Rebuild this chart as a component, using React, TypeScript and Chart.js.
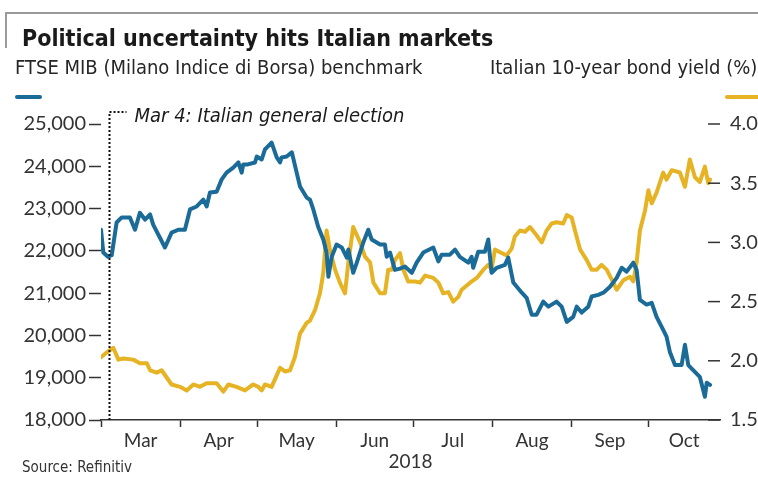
import React, { useEffect, useRef } from 'react';
import { Chart, registerables } from 'chart.js';

Chart.register(...registerables);

// ---- Data (x = days since 1 Mar 2018) ----
const monthNames = ['Mar', 'Apr', 'May', 'Jun', 'Jul', 'Aug', 'Sep', 'Oct'];
const monthStarts = [0, 31, 61, 92, 122, 153, 184, 214];
const axisEndDay = 242;
const electionDay = 3;
const electionLabel = 'Mar 4: Italian general election';
const yearLabel = '2018';

const leftTicks = [18000, 19000, 20000, 21000, 22000, 23000, 24000, 25000];
const rightTicks = [1.5, 2.0, 2.5, 3.0, 3.5, 4.0];

const ftseDays = [
  0, 0.9, 2.7, 4.2, 6.1, 8.1, 11.3, 13.3, 15.2, 17.2, 19.2, 20.4, 25.0, 27.6, 30.2, 32.8,
  34.8, 37.4, 40.0, 41.3, 42.6, 45.2, 47.2, 49.1, 51.7, 53.7, 55.0, 55.6, 57.0, 60.2, 60.9,
  62.8, 64.1, 66.7, 68.7, 70.0, 70.6, 72.6, 74.6, 76.5, 77.8, 80.4, 81.7, 83.0, 84.9, 86.9,
  88.2, 88.9, 90.2, 92.1, 94.1, 96.1, 96.7, 98.6, 100.0, 102.5, 104.5, 105.8, 109.1, 111.0,
  111.7, 113.0, 114.9, 116.9, 118.8, 121.5, 123.4, 126.0, 129.9, 131.9, 133.2, 136.4, 138.4,
  140.3, 143.6, 144.9, 145.5, 147.5, 150.1, 151.4, 152.7, 154.7, 157.9, 159.2, 161.2, 164.5,
  166.4, 168.4, 170.3, 172.9, 174.9, 178.1, 180.1, 182.1, 184.6, 186.0, 187.9, 190.5, 191.8,
  194.4, 196.4, 199.0, 201.6, 203.6, 205.5, 208.1, 209.4, 210.7, 213.3, 215.3, 217.2, 219.8,
  221.1, 222.4, 224.4, 227.0, 228.3, 229.6, 231.5, 234.1, 236.1, 236.8, 238.1,
];
const ftseValues = [
  22500, 21960, 21860, 21900, 22670, 22790, 22790, 22500, 22900, 22740, 22860, 22620, 22080, 22430, 22500, 22500,
  22980, 23050, 23210, 23050, 23380, 23400, 23690, 23850, 23970, 24090, 23850, 24040, 24040, 24090, 24230,
  24160, 24400, 24560, 24210, 24090, 24210, 24230, 24330, 23850, 23520, 23260, 23210, 22980, 22570, 22270,
  21960, 21390, 21860, 22150, 22080, 21840, 22030, 21480, 21720, 22190, 22500, 22270, 22150, 22150,
  21860, 21960, 21550, 21580, 21630, 21480, 21720, 21960, 22080, 21750, 21910, 21910, 22030,
  21860, 21720, 21860, 21600, 21980, 21980, 22270, 21480, 21600, 21670, 21840, 21250, 21010,
  20890, 20490, 20490, 20800, 20680, 20800, 20680, 20320, 20440, 20680, 20540, 20680, 20920,
  20960, 21010, 21150, 21360, 21600, 21510, 21720, 21550, 20840, 20730, 20770, 20440, 20130,
  19970, 19610, 19300, 19300, 19780, 19300, 19180, 19020, 18550, 18880, 18830,
];

const yieldDays = [
  0, 2.2, 4.8, 6.8, 8.7, 12.6, 15.2, 17.9, 19.2, 21.8, 23.7, 27.6, 30.9, 33.5, 36.1, 38.7,
  41.3, 45.2, 47.8, 49.8, 53.0, 56.3, 59.5, 61.5, 62.8, 64.1, 66.7, 70.0, 71.9, 73.9, 75.8,
  77.8, 80.4, 81.7, 83.7, 85.6, 86.9, 88.2, 89.5, 91.5, 93.4, 95.4, 96.7, 98.6, 101.3, 103.2,
  105.2, 106.5, 109.1, 111.0, 112.3, 113.7, 114.9, 116.9, 118.2, 120.1, 122.8, 124.7, 126.7,
  129.9, 131.9, 133.8, 135.8, 137.7, 139.7, 141.0, 144.3, 146.9, 149.5, 151.4, 152.7, 154.0,
  156.6, 158.6, 160.6, 161.8, 163.8, 165.8, 167.7, 170.3, 172.3, 174.2, 176.2, 178.1, 180.7,
  182.1, 184.0, 185.3, 187.3, 189.9, 191.8, 193.8, 195.7, 197.7, 200.3, 201.6, 204.2, 206.8,
  208.1, 209.4, 210.7, 212.7, 214.0, 215.3, 217.2, 219.8, 221.1, 223.1, 226.3, 228.3, 230.2,
  232.2, 234.1, 236.1, 237.4, 238.1,
];
const yieldValues = [
  2.03, 2.07, 2.11, 2.01, 2.02, 2.01, 1.98, 1.98, 1.92, 1.90, 1.92, 1.80, 1.78, 1.75, 1.80, 1.78,
  1.81, 1.81, 1.74, 1.80, 1.78, 1.75, 1.80, 1.78, 1.75, 1.80, 1.78, 1.94, 1.91, 1.92, 2.03,
  2.23, 2.32, 2.34, 2.43, 2.57, 2.74, 3.10, 2.94, 2.77, 2.66, 2.57, 2.83, 3.13, 3.00, 2.88,
  2.83, 2.66, 2.57, 2.57, 2.77, 2.77, 2.85, 2.91, 2.77, 2.67, 2.67, 2.66, 2.72,
  2.70, 2.66, 2.57, 2.58, 2.50, 2.54, 2.60, 2.66, 2.70, 2.77, 2.81, 2.77, 2.94,
  2.91, 2.89, 2.95, 3.05, 3.10, 3.09, 3.13, 3.06, 3.00, 3.10, 3.16, 3.17, 3.16,
  3.23, 3.21, 3.10, 2.94, 2.85, 2.77, 2.77, 2.81, 2.77, 2.66, 2.60, 2.68, 2.71,
  2.67, 2.83, 3.10, 3.27, 3.44, 3.33, 3.42, 3.59, 3.53, 3.61, 3.59, 3.47, 3.70,
  3.55, 3.51, 3.64, 3.50, 3.53,
];

const BLUE = '#1a6b98';
const GOLD = '#e5b323';
const INK = '#333333';
const TICK_FONT = "Lato, 'Open Sans', sans-serif";
const NARROW = "'Liberation Sans Narrow', 'Arial Narrow', 'DejaVu Sans Condensed', sans-serif";

const monthMids = monthStarts.map((s, i) => (s + (i + 1 < monthStarts.length ? monthStarts[i + 1] : axisEndDay)) / 2);

const extrasPlugin = {
  id: 'extras',
  afterDatasetsDraw(chart: any) {
    const { ctx, chartArea, scales } = chart;
    const yR = scales.yR;
    ctx.save();
    // right-axis tick dashes (inside)
    ctx.strokeStyle = INK;
    ctx.lineWidth = 1.5;
    rightTicks.forEach((v) => {
      const y = yR.getPixelForValue(v);
      ctx.beginPath();
      ctx.moveTo(chartArea.right - 12, y);
      ctx.lineTo(chartArea.right, y);
      ctx.stroke();
    });
    // election marker
    const x = Math.round(scales.x.getPixelForValue(electionDay)) + 0.5;
    const topY = chartArea.top - 12;
    ctx.strokeStyle = '#111';
    ctx.lineWidth = 2;
    ctx.setLineDash([2, 2]);
    ctx.beginPath();
    ctx.moveTo(x, chartArea.bottom);
    ctx.lineTo(x, topY);
    ctx.lineTo(x + 17, topY);
    ctx.stroke();
    ctx.setLineDash([]);
    ctx.fillStyle = '#1a1a1a';
    ctx.font = `italic 20px ${NARROW}`;
    ctx.textBaseline = 'alphabetic';
    ctx.textAlign = 'left';
    ctx.fillText(electionLabel, x + 25, topY + 10);
    ctx.restore();
  },
};

export default function App() {
  const canvasRef = useRef<HTMLCanvasElement | null>(null);

  useEffect(() => {
    if (!canvasRef.current) return;
    const chart = new Chart(canvasRef.current, {
      type: 'line',
      data: {
        datasets: [
          {
            label: 'FTSE MIB',
            data: ftseDays.map((d, i) => ({ x: d, y: ftseValues[i] })),
            yAxisID: 'yL',
            borderColor: BLUE,
            borderWidth: 4,
            pointRadius: 0,
            tension: 0,
            borderJoinStyle: 'round',
            borderCapStyle: 'round',
          },
          {
            label: 'Italian 10-year bond yield (%)',
            data: yieldDays.map((d, i) => ({ x: d, y: yieldValues[i] })),
            yAxisID: 'yR',
            borderColor: GOLD,
            borderWidth: 4,
            pointRadius: 0,
            tension: 0,
            borderJoinStyle: 'round',
            borderCapStyle: 'round',
          },
        ],
      },
      options: {
        animation: false,
        responsive: false,
        devicePixelRatio: 1,
        layout: { padding: { top: 124, left: 0, right: 0, bottom: 0 } },
        plugins: { legend: { display: false }, tooltip: { enabled: false } },
        scales: {
          x: {
            type: 'linear',
            min: 0,
            max: axisEndDay,
            position: 'bottom',
            afterBuildTicks: (scale: any) => {
              scale.ticks = [...monthStarts, ...monthMids].sort((a, b) => a - b).map((v) => ({ value: v }));
            },
            afterFit: (scale: any) => {
              scale.height = 59;
            },
            ticks: {
              autoSkip: false,
              maxRotation: 0,
              padding: 2,
              color: INK,
              font: { family: TICK_FONT, size: 19 },
              callback: (v: any) => {
                const i = monthMids.indexOf(Number(v));
                return i >= 0 ? monthNames[i] : '';
              },
            },
            grid: {
              drawOnChartArea: false,
              drawTicks: true,
              tickLength: 7,
              tickWidth: 1.5,
              tickColor: (c: any) => (c.tick && monthStarts.includes(c.tick.value) ? INK : 'rgba(0,0,0,0)'),
            },
            border: { display: true, color: INK, width: 1.5 },
            title: {
              display: true,
              text: yearLabel,
              color: INK,
              font: { family: TICK_FONT, size: 19 },
              padding: { top: 0, bottom: 6 },
            },
          },
          yL: {
            type: 'linear',
            position: 'left',
            min: 18000,
            max: 25000,
            afterBuildTicks: (scale: any) => {
              scale.ticks = leftTicks.map((v) => ({ value: v }));
            },
            afterFit: (scale: any) => {
              scale.width = 101;
            },
            ticks: {
              padding: 3,
              color: INK,
              font: { family: TICK_FONT, size: 20 },
              callback: (v: any) => Number(v).toLocaleString('en-US'),
            },
            grid: { drawOnChartArea: false, drawTicks: true, tickLength: 12, tickWidth: 1.5, tickColor: INK },
            border: { display: false },
          },
          yR: {
            type: 'linear',
            position: 'right',
            min: 1.5,
            max: 4.0,
            afterBuildTicks: (scale: any) => {
              scale.ticks = rightTicks.map((v) => ({ value: v }));
            },
            afterFit: (scale: any) => {
              scale.width = 38;
            },
            ticks: {
              padding: 10,
              color: INK,
              font: { family: TICK_FONT, size: 20 },
              callback: (v: any) => Number(v).toFixed(1),
            },
            grid: { drawOnChartArea: false, drawTicks: false },
            border: { display: false },
          },
        },
      },
      plugins: [extrasPlugin],
    } as any);
    return () => chart.destroy();
  }, []);

  const abs = (s: React.CSSProperties): React.CSSProperties => ({ position: 'absolute', margin: 0, whiteSpace: 'nowrap', ...s });

  return (
    <div style={{ position: 'fixed', left: 0, top: 0, width: 758, height: 479, background: '#fff', overflow: 'hidden' }}>
      <canvas ref={canvasRef} width={758} height={479} style={{ position: 'absolute', left: 0, top: 0, width: 758, height: 479 }} />
      <div style={abs({ left: 5, top: 12, width: 753, height: 0, borderTop: '2px solid #9a9a9a' })} />
      <div style={abs({ left: 5, top: 12, width: 0, height: 36, borderLeft: '2px solid #9a9a9a' })} />
      <div style={abs({ left: 22, top: 27, fontFamily: NARROW, fontWeight: 700, fontSize: 23, lineHeight: '23px', color: '#1a1a1a' })}>
        Political uncertainty hits Italian markets
      </div>
      <div style={abs({ left: 15, top: 57, fontFamily: NARROW, fontSize: 20, lineHeight: '20px', color: '#262626' })}>
        FTSE MIB (Milano Indice di Borsa) benchmark
      </div>
      <div style={abs({ left: 15, top: 95, width: 27, height: 4, borderRadius: 2, background: BLUE })} />
      <div style={abs({ left: 490, top: 57, fontFamily: NARROW, fontSize: 20, lineHeight: '20px', color: '#262626' })}>
        Italian 10-year bond yield (%)
      </div>
      <div style={abs({ left: 725, top: 95, width: 40, height: 4, borderRadius: 2, background: GOLD })} />
      <div style={abs({ left: 22, top: 460, fontFamily: NARROW, fontSize: 15, lineHeight: '15px', color: '#333' })}>
        Source: Refinitiv
      </div>
    </div>
  );
}
